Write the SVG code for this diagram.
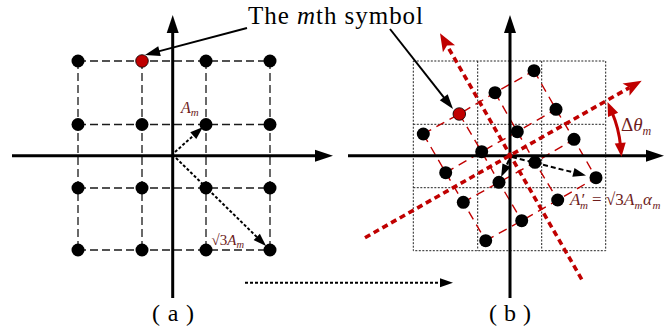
<svg xmlns="http://www.w3.org/2000/svg" width="664" height="331" viewBox="0 0 664 331">
<style>
.axis{stroke:#000;stroke-width:3;fill:none;marker-end:url(#axArrow)}
.grid-a{stroke:#1a1a1a;stroke-width:1.3;stroke-dasharray:8 4;fill:none}
.grid-b{stroke:#222;stroke-width:1;stroke-dasharray:2 1.5;fill:none}
.rot{stroke:#c00000;stroke-width:1.4;stroke-dasharray:9 6;fill:none}
.raxis{stroke:#c00000;stroke-width:3.6;stroke-dasharray:6 4;fill:none;marker-end:url(#redArrow)}
.darr{stroke:#000;stroke-width:2;stroke-dasharray:3 2;fill:none;marker-end:url(#smallArrow)}
.darr2{stroke:#000;stroke-width:2;stroke-dasharray:5 3;fill:none;marker-end:url(#smallArrow)}
.ptr{stroke:#000;stroke-width:2;fill:none;marker-end:url(#ptrArrow)}
.dot{fill:#000}
.rdot{fill:#c00000;stroke:#000;stroke-width:0.8}
.lbl{font-family:"Liberation Serif","Times New Roman",serif;fill:#000}
.math{font-family:"Liberation Serif","Times New Roman",serif;font-style:italic;fill:#6e1c1c}
.up{font-style:normal}
</style>
<defs>
<marker id="axArrow" markerUnits="userSpaceOnUse" markerWidth="20" markerHeight="14" refX="6" refY="7" orient="auto" overflow="visible"><path d="M0,1 L18,7 L0,13 z" fill="#000"/></marker>
<marker id="smallArrow" markerUnits="userSpaceOnUse" markerWidth="14" markerHeight="10" refX="3" refY="4.5" orient="auto" overflow="visible"><path d="M0,0 L13,4.5 L0,9 z" fill="#000"/></marker>
<marker id="ptrArrow" markerUnits="userSpaceOnUse" markerWidth="16" markerHeight="10" refX="3" refY="5" orient="auto" overflow="visible"><path d="M0,0 L15,5 L0,10 z" fill="#000"/></marker>
<marker id="redArrow" markerUnits="userSpaceOnUse" markerWidth="20" markerHeight="16" refX="4" refY="7" orient="auto" overflow="visible"><path d="M0,0 L18,7 L0,14 L4,7 z" fill="#c00000"/></marker>
<marker id="arcArrow" markerUnits="userSpaceOnUse" markerWidth="16" markerHeight="12" refX="3" refY="5.5" orient="auto-start-reverse" overflow="visible"><path d="M0,0 L14,5.5 L0,11 z" fill="#c00000"/></marker>
</defs>

<g id="panel-a-grid">
<path class="grid-a" d="M78,61H270M78,124.5H270M78,188H270M78,250H270M78,61V250M142,61V250M206,61V250M270,61V250"/>
</g>
<g id="panel-a-axes">
<line class="axis" x1="12" y1="155.7" x2="321" y2="155.7"/>
<line class="axis" x1="172.7" y1="298" x2="172.7" y2="27"/>
</g>

<g id="panel-b-grid">
<path class="grid-b" d="M413.3,61H605.7V250.7H413.3Z M477.7,61V250.7M541.7,61V250.7M413.3,124.3H605.7M413.3,187.7H605.7"/>
</g>
<g id="panel-b-rotated-grid">
<polyline class="rot" points="423.3,134 459.3,114 495,92.7 534,70.7"/>
<polyline class="rot" points="445.7,172.7 481.7,151.7 517.3,131.7 556,109.3"/>
<polyline class="rot" points="463.3,202.3 499,182.3 535,162.3 574,139.3"/>
<polyline class="rot" points="485.7,240.7 521.7,220.7 557.7,200 596,177.7"/>
<polyline class="rot" points="423.3,134 445.7,172.7 463.3,202.3 485.7,240.7"/>
<polyline class="rot" points="459.3,114 481.7,151.7 499,182.3 521.7,220.7"/>
<polyline class="rot" points="495,92.7 517.3,131.7 535,162.3 557.7,200"/>
<polyline class="rot" points="534,70.7 556,109.3 574,139.3 596,177.7"/>
</g>
<g id="panel-b-axes">
<line class="axis" x1="348" y1="155.7" x2="652" y2="155.7"/>
<line class="axis" x1="510" y1="298" x2="510" y2="27"/>
</g>

<g id="connectors">
<line class="raxis" x1="365" y1="237.7" x2="629.5" y2="87.6"/>
<line class="raxis" x1="581.7" y1="279.3" x2="447" y2="45.4"/>
<path d="M620.5,145.9 A111,111 0 0 0 611.9,112.1" stroke="#c00000" stroke-width="3" fill="none" marker-start="url(#arcArrow)" marker-end="url(#arcArrow)"/>
<line class="darr" x1="175" y1="152" x2="195.5" y2="133.7"/>
<line class="darr" x1="176" y1="158" x2="258.9" y2="239"/>
<line class="darr" x1="245" y1="282.7" x2="443" y2="282.7"/>
<line class="darr2" x1="512" y1="157" x2="576.3" y2="173.1"/>
<line class="darr2" x1="509" y1="160" x2="505.3" y2="168"/>
<line class="ptr" x1="247" y1="28" x2="156.6" y2="51.9"/>
<line class="ptr" x1="390" y1="29" x2="445.6" y2="99.6"/>
</g>

<g id="panel-a-points">
<circle class="dot" cx="78" cy="61" r="6.5"/><circle class="rdot" cx="142" cy="61" r="6.3"/><circle class="dot" cx="206" cy="61" r="6.5"/><circle class="dot" cx="270" cy="61" r="6.5"/>
<circle class="dot" cx="78" cy="124.5" r="6.5"/><circle class="dot" cx="142" cy="124.5" r="6.5"/><circle class="dot" cx="206" cy="124.5" r="6.5"/><circle class="dot" cx="270" cy="124.5" r="6.5"/>
<circle class="dot" cx="78" cy="188" r="6.5"/><circle class="dot" cx="142" cy="188" r="6.5"/><circle class="dot" cx="206" cy="188" r="6.5"/><circle class="dot" cx="270" cy="188" r="6.5"/>
<circle class="dot" cx="78" cy="250" r="6.5"/><circle class="dot" cx="142" cy="250" r="6.5"/><circle class="dot" cx="206" cy="250" r="6.5"/><circle class="dot" cx="270" cy="250" r="6.5"/>
</g>

<g id="panel-b-points">
<circle class="dot" cx="423.3" cy="134" r="6.5"/><circle class="rdot" cx="459.3" cy="114" r="6.3"/><circle class="dot" cx="495" cy="92.7" r="6.5"/><circle class="dot" cx="534" cy="70.7" r="6.5"/>
<circle class="dot" cx="445.7" cy="172.7" r="6.5"/><circle class="dot" cx="481.7" cy="151.7" r="6.5"/><circle class="dot" cx="517.3" cy="131.7" r="6.5"/><circle class="dot" cx="556" cy="109.3" r="6.5"/>
<circle class="dot" cx="463.3" cy="202.3" r="6.5"/><circle class="dot" cx="499" cy="182.3" r="6.5"/><circle class="dot" cx="535" cy="162.3" r="6.5"/><circle class="dot" cx="574" cy="139.3" r="6.5"/>
<circle class="dot" cx="485.7" cy="240.7" r="6.5"/><circle class="dot" cx="521.7" cy="220.7" r="6.5"/><circle class="dot" cx="557.7" cy="200" r="6.5"/><circle class="dot" cx="596" cy="177.7" r="6.5"/>
</g>

<g id="labels">
<text class="lbl" x="248" y="24" font-size="25" textLength="175" lengthAdjust="spacing">The <tspan font-style="italic">m</tspan>th symbol</text>
<text class="math" x="181" y="113" font-size="16">A<tspan font-size="11" dy="3">m</tspan></text>
<text class="math" x="211.5" y="245" font-size="15"><tspan class="up">√3</tspan>A<tspan font-size="10.5" dy="3">m</tspan></text>
<text class="math" y="205" font-size="17"><tspan x="570">A′</tspan><tspan x="580" dy="4" font-size="11">m</tspan><tspan x="592" dy="-4" class="up">=</tspan><tspan x="606" class="up">√3</tspan><tspan x="624">A</tspan><tspan x="634.5" dy="4" font-size="11">m</tspan><tspan x="643" dy="-4">α</tspan><tspan x="652.5" dy="4" font-size="11">m</tspan></text>
<text class="math" x="621" y="131" font-size="19" fill="#5a1a1a"><tspan class="up">Δ</tspan>θ<tspan font-size="12" dy="4">m</tspan></text>
<text class="lbl" x="152" y="321" font-size="24" textLength="42" lengthAdjust="spacing">(a)</text>
<text class="lbl" x="489" y="321" font-size="24" textLength="42" lengthAdjust="spacing">(b)</text>
</g>
</svg>
